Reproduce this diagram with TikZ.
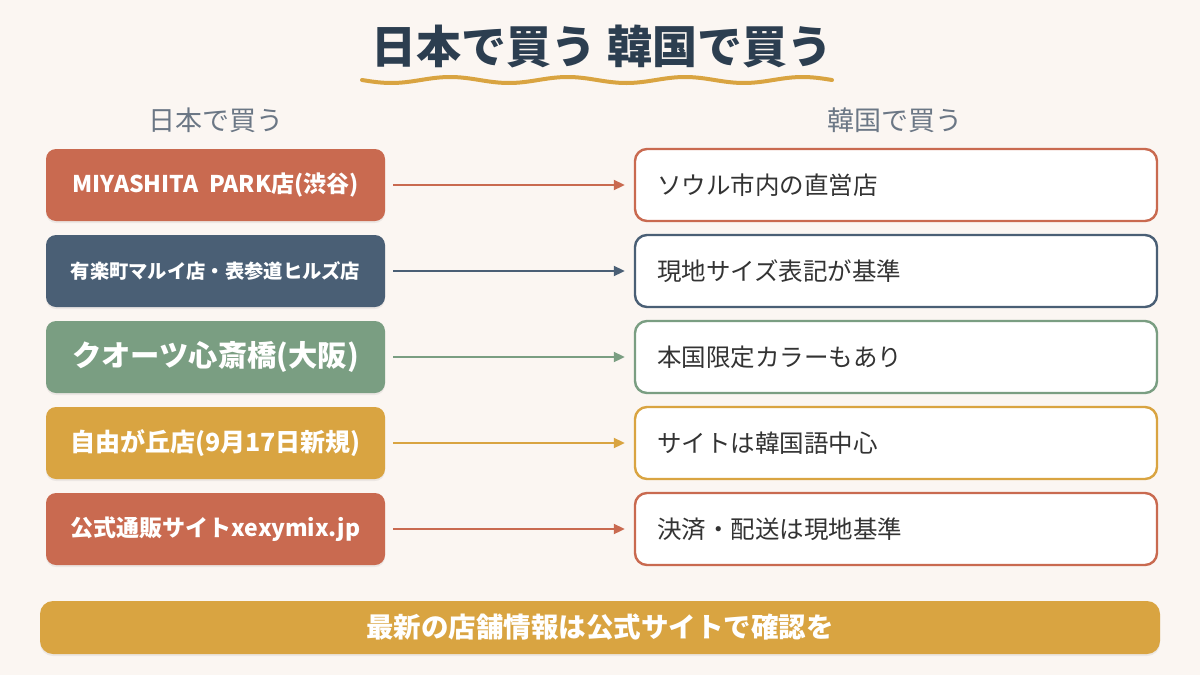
\documentclass[tikz,border=0pt]{standalone}
\usepackage{fontspec}
\setmainfont{Noto Sans CJK JP}
\usetikzlibrary{arrows.meta,shadows}
\definecolor{bg}{HTML}{FBF6F2}
\definecolor{navy}{HTML}{2C3E50}
\definecolor{coral}{HTML}{C96A50}
\definecolor{slate}{HTML}{4A5F75}
\definecolor{sage}{HTML}{7A9E82}
\definecolor{gold}{HTML}{D9A441}
\definecolor{hdr}{HTML}{6B7785}
\definecolor{txt}{HTML}{333333}
\begin{document}
\begin{tikzpicture}[x=1pt,y=-1pt,
  lbox/.style={rounded corners=10pt, minimum width=339pt, minimum height=72pt, inner sep=0pt, text=white, font=\bfseries,
     drop shadow={opacity=0.12, shadow xshift=0pt, shadow yshift=-2pt}},
  rbox/.style={rounded corners=12pt, line width=2.4pt, fill=white, minimum height=72pt, text width=478pt, inner xsep=22pt, inner ysep=0pt, align=left, text=txt, font=\fontsize{24.5}{28}\selectfont},
  conn/.style={line width=2pt, -{Triangle[length=11pt,width=10pt]}},
  hdrtext/.style={text=hdr, font=\fontsize{27}{32}\selectfont}
]
\useasboundingbox[fill=bg] (0,0) rectangle (1200,675);

\node[text=navy, font=\bfseries\fontsize{45}{50}\selectfont] (title) at (602,46) {日本で買う 韓国で買う};
\draw[gold, line width=4pt, line cap=round, domain=0:470, samples=120, smooth]
  plot ({362+\x}, {80 + 3*sin(\x/470*4*360)});

\node[hdrtext] (hl) at (216,120) {日本で買う};
\node[hdrtext] (hr) at (895,120) {韓国で買う};

\node[lbox, fill=coral, font=\bfseries\fontsize{23}{26}\selectfont] (l1) at (215.5,185) {MIYASHITA\ \ PARK店(渋谷)};
\node[lbox, fill=slate, font=\bfseries\fontsize{19.3}{22}\selectfont] (l2) at (215.5,271) {有楽町マルイ店・表参道ヒルズ店};
\node[lbox, fill=sage, font=\bfseries\fontsize{29.3}{33}\selectfont] (l3) at (215.5,357) {クオーツ心斎橋(大阪)};
\node[lbox, fill=gold, font=\bfseries\fontsize{25}{28}\selectfont] (l4) at (215.5,443) {自由が丘店(9月17日新規)};
\node[lbox, fill=coral, font=\bfseries\fontsize{23}{26}\selectfont] (l5) at (215.5,529) {公式通販サイトxexymix.jp};

\node[rbox, draw=coral] (r1) at (896,185) {ソウル市内の直営店};
\node[rbox, draw=slate] (r2) at (896,271) {現地サイズ表記が基準};
\node[rbox, draw=sage] (r3) at (896,357) {本国限定カラーもあり};
\node[rbox, draw=gold] (r4) at (896,443) {サイトは韓国語中心};
\node[rbox, draw=coral] (r5) at (896,529) {決済・配送は現地基準};

\draw[conn, coral] ([xshift=8pt]l1.east) -- ([xshift=-9pt]r1.west);
\draw[conn, slate] ([xshift=8pt]l2.east) -- ([xshift=-9pt]r2.west);
\draw[conn, sage] ([xshift=8pt]l3.east) -- ([xshift=-9pt]r3.west);
\draw[conn, gold] ([xshift=8pt]l4.east) -- ([xshift=-9pt]r4.west);
\draw[conn, coral] ([xshift=8pt]l5.east) -- ([xshift=-9pt]r5.west);

\node[fill=gold, rounded corners=13pt, minimum width=1120pt, minimum height=53pt, inner sep=0pt, text=white,
  font=\bfseries\fontsize{27.5}{31}\selectfont, drop shadow={opacity=0.12, shadow xshift=0pt, shadow yshift=-2pt}] (note) at (600,627.5) {最新の店舗情報は公式サイトで確認を};
\end{tikzpicture}
\end{document}
